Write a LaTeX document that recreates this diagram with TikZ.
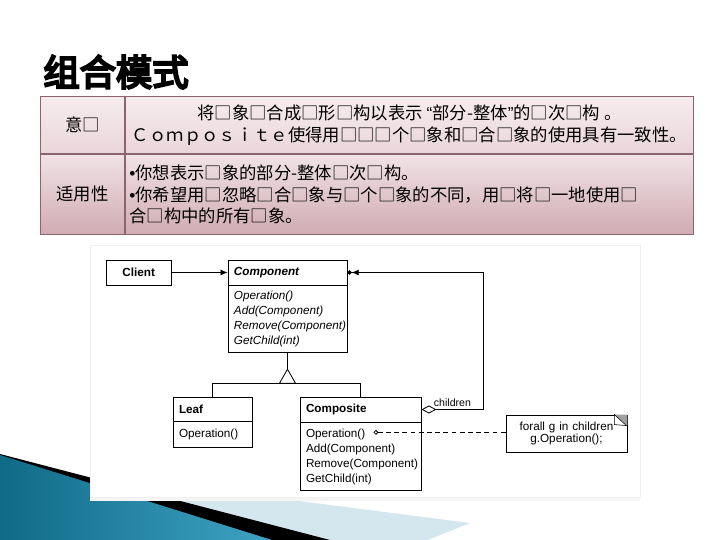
\documentclass[tikz,border=0pt]{standalone}
\usepackage{fontspec}
\setsansfont{Liberation Sans}
\newfontfamily\cjk{Noto Sans CJK SC}
\newfontfamily\cjkbold[FakeBold=6]{Noto Sans CJK SC}
\newfontfamily\latinpart{Liberation Sans}
\newcommand\dotmark{{\latinpart •}}
\usetikzlibrary{positioning, arrows.meta, calc}

\definecolor{cellline}{HTML}{8C6470}
\definecolor{rowatop}{HTML}{F6ECEE}
\definecolor{rowabot}{HTML}{EAD6DA}
\definecolor{rowbtop}{HTML}{F0E3E6}
\definecolor{rowbbot}{HTML}{D0ABB3}
\definecolor{tealdark}{HTML}{0F6A86}
\definecolor{teallight}{HTML}{3FA3C4}
\definecolor{paleblue}{HTML}{D4E7EE}
\definecolor{earfill}{HTML}{A0A0A0}

\begin{document}
\begin{tikzpicture}[
  x=0.03cm, y=-0.03cm,
  line width=0.7pt,
  cell/.style={draw=cellline, line width=0.8pt, inner sep=1pt, align=center,
    font=\cjk\fontsize{14.8}{18.5}\selectfont},
  rowa/.style={top color=rowatop, bottom color=rowabot, minimum height=1.71cm},
  rowb/.style={top color=rowbtop, bottom color=rowbbot, minimum height=2.4cm},
  classhead/.style={draw, fill=white, align=left, inner xsep=0.18cm, inner ysep=0pt,
    font=\sffamily\bfseries\fontsize{10}{12}\selectfont},
  classbody/.style={draw, fill=white, align=left, inner xsep=0.18cm, inner ysep=0pt,
    font=\sffamily\fontsize{10}{12.75}\selectfont},
  memo/.style={draw, fill=white, align=center, text width=3.63cm, minimum height=1.11cm,
    inner sep=0pt, font=\sffamily\fontsize{10}{10.5}\selectfont},
  assoc/.style={-{Latex[length=0.21cm, width=0.18cm]}},
  aggregate/.style={{Diamond[open, length=0.45cm, width=0.24cm]}-{Latex[length=0.21cm, width=0.18cm] Circle[length=0.13cm]}},
  hint/.style={dashed, dash pattern=on 4pt off 3pt, {Circle[open, length=0.14cm]}-}
]
\useasboundingbox (0,0) rectangle (720,540);
\fill[white] (0,0) rectangle (720,540);

\fill[paleblue] (120,478) -- (470,523) -- (428,540) -- (120,540) -- cycle;
\fill[black] (0,454) -- (330,540) -- (0,540) -- cycle;
\shade[left color=tealdark, right color=teallight] (0,455) -- (272,540) -- (0,540) -- cycle;

\fill[gray!8] (90,497) rectangle (640,501);
\draw[draw=gray!12, fill=white, line width=0.5pt] (90,245) rectangle (640,497);

\node[font=\cjkbold\fontsize{31}{31}\selectfont] (title) at (116,72) {组合模式};

\node[cell, rowa, anchor=north west, minimum width=2.52cm] (intenthead) at (40,96) {意□};
\node[cell, rowa, right=0pt of intenthead, minimum width=17.04cm] (intent)
  {将□象□合成□形□构以表示 {\latinpart “}部分-整体{\latinpart ”}的□次□构 。\\
   Ｃｏｍｐｏｓｉｔｅ使得用□□□个□象和□合□象的使用具有一致性。};
\node[cell, rowb, below=0pt of intenthead, minimum width=2.52cm] (usehead) {适用性};
\node[cell, rowb, right=0pt of usehead, text width=16.8cm, inner xsep=0.12cm, align=left,
  font=\cjk\fontsize{14.8}{18.7}\selectfont] (use)
  {\dotmark 你想表示□象的部分-整体□次□构。\\
   \dotmark 你希望用□忽略□合□象与□个□象的不同，用□将□一地使用□\\
   合□构中的所有□象。};

\node[classhead, text width=3.21cm, minimum height=0.75cm] (comp) at (287.5,272.5) {\itshape Component};
\node[classbody, below=0pt of comp, text width=3.21cm, minimum height=2.01cm, font=\sffamily\itshape\fontsize{10}{12.75}\selectfont] (compops)
  {Operation()\\Add(Component)\\Remove(Component)\\GetChild(int)};
\node[classhead, align=center, text width=1.59cm, minimum height=0.75cm, left=1.68cm of comp] (client) {Client};

\node[classhead, text width=2.01cm, minimum height=0.72cm] (leafh) at (212.5,409) {Leaf};
\node[classbody, below=0pt of leafh, text width=2.01cm, minimum height=0.78cm] (leafops) {Operation()};

\node[classhead, text width=3.27cm, minimum height=0.75cm] (compositeh) at (360.5,409.5) {Composite};
\node[classbody, below=0pt of compositeh, text width=3.27cm, minimum height=2.04cm] (compositeops)
  {Operation()\\Add(Component)\\Remove(Component)\\GetChild(int)};

\node[memo] (note) at (566.5,433.5) {forall g in children\hspace*{16pt}\\g.Operation();\hspace*{16pt}};
\fill[earfill] (note.north east) -- ++(-13,0) -- ++(13,11) -- cycle;
\draw[fill=white, line width=0.5pt] ($(note.north east)+(-13,0)$) -- ++(0,10) -- ++(12,1) -- cycle;

\draw[assoc] (client) -- (comp);

\coordinate (apex) at ($(compops.south)+(0,16)$);
\coordinate (basemid) at ($(apex)+(0,14)$);
\draw (compops.south) -- (apex);
\draw (apex) -- ++(-8,14) -- ++(16,0) -- cycle;
\draw (leafh.north) |- (basemid) -| (compositeh.north);

\draw[aggregate] (compositeh.east) -- node[above=-1pt, font=\sffamily\fontsize{9}{10}\selectfont] {children} ++(62,0) |- (comp.east);

\coordinate (opdot) at ($(compositeops.north west)+(74,10)$);
\draw[hint] (opdot) -- (opdot -| note.west);

\end{tikzpicture}
\end{document}
